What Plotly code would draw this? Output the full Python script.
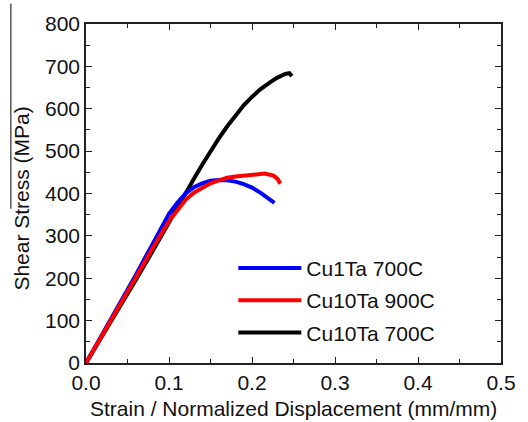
import plotly.graph_objects as go

# Cu1Ta 700C
blue_strain = [0, 0.02, 0.04, 0.06, 0.08, 0.10, 0.11, 0.12, 0.13, 0.14, 0.15, 0.16, 0.17, 0.18, 0.19, 0.20, 0.21, 0.22, 0.227]
blue_stress = [0, 68, 138, 208, 280, 352, 378, 400, 415, 424, 430, 432, 431, 428, 422, 414, 402, 388, 378]

# Cu10Ta 900C
red_strain = [0, 0.02, 0.04, 0.06, 0.08, 0.10, 0.11, 0.12, 0.13, 0.14, 0.15, 0.16, 0.17, 0.18, 0.19, 0.20, 0.21, 0.215, 0.22, 0.226, 0.231, 0.234]
red_stress = [0, 66, 134, 202, 270, 335, 360, 385, 402, 414, 424, 431, 437, 440, 442, 444, 446, 447, 445, 442, 434, 423]

# Cu10Ta 700C
black_strain = [0, 0.02, 0.04, 0.06, 0.08, 0.10, 0.12, 0.13, 0.14, 0.15, 0.16, 0.17, 0.18, 0.19, 0.20, 0.21, 0.22, 0.23, 0.24, 0.245, 0.248]
black_stress = [0, 64, 130, 196, 263, 333, 400, 435, 468, 500, 530, 558, 585, 608, 628, 646, 660, 673, 682, 684, 677]

names = ["Cu1Ta 700C", "Cu10Ta 900C", "Cu10Ta 700C"]
x_title = "Strain / Normalized Displacement (mm/mm)"
y_title = "Shear Stress (MPa)"

FONT = "Arial, Liberation Sans, sans-serif"
FS = 21

fig = go.Figure()
fig.add_trace(go.Scatter(x=black_strain, y=black_stress, mode="lines", name=names[2],
                         line=dict(color="#000000", width=4), legendrank=3, legendgroup="c"))
fig.add_trace(go.Scatter(x=blue_strain, y=blue_stress, mode="lines", name=names[0],
                         line=dict(color="#0000ff", width=4), legendrank=1, legendgroup="a"))
fig.add_trace(go.Scatter(x=red_strain, y=red_stress, mode="lines", name=names[1],
                         line=dict(color="#ff0000", width=4), legendrank=2, legendgroup="b"))

axis_common = dict(
    showgrid=False, zeroline=False, showline=True, linecolor="#222222", linewidth=1.5,
    mirror="ticks", ticks="inside", ticklen=6, tickwidth=1, tickcolor="#222222",
    tickfont=dict(family=FONT, size=FS, color="#111111"),
)

fig.update_xaxes(range=[0, 0.5], dtick=0.1, tickformat=".1f",
                 minor=dict(dtick=0.05, ticks="inside", ticklen=4, tickcolor="#222222"),
                 **axis_common)
fig.update_yaxes(range=[0, 800], dtick=100, ticklabelstandoff=0,
                 minor=dict(dtick=50, ticks="inside", ticklen=4, tickcolor="#222222"),
                 **axis_common)

fig.update_layout(
    width=528, height=422,
    margin=dict(l=86, r=16, t=20, b=59),
    paper_bgcolor="white", plot_bgcolor="white",
    showlegend=True,
    legend=dict(x=0.355, y=0.34, xanchor="left", yanchor="top",
                bgcolor="rgba(0,0,0,0)", borderwidth=0,
                font=dict(family=FONT, size=FS, color="#111111"),
                traceorder="grouped", tracegroupgap=2, itemwidth=63),
    annotations=[
        dict(text=x_title, xref="paper", yref="paper", x=0.5, y=-0.134,
             xanchor="center", yanchor="middle", showarrow=False,
             font=dict(family=FONT, size=FS, color="#111111")),
        dict(text=y_title, xref="paper", yref="paper", x=-0.155, y=0.484,
             xanchor="center", yanchor="middle", showarrow=False, textangle=-90,
             font=dict(family=FONT, size=FS, color="#111111")),
    ],
    shapes=[dict(type="line", xref="paper", yref="paper",
                 x0=-0.181, x1=-0.181, y0=0.455, y1=1.06,
                 line=dict(color="#000000", width=1))],
)

fig.write_html("out.html")
